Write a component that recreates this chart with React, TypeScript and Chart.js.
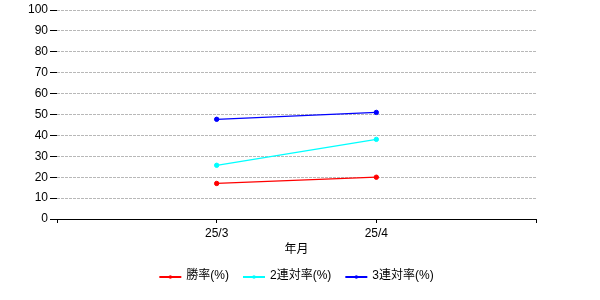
import React, { useEffect, useRef } from 'react';
import { Chart, registerables } from 'chart.js';

Chart.register(...registerables);

// ---- data ----
const categories = ['25/3', '25/4'];
const winRate = [17.0, 20.0];
const top2Rate = [25.7, 38.1];
const top3Rate = [47.7, 51.0];
const seriesNames = ['勝率(%)', '2連対率(%)', '3連対率(%)'];
const seriesColors = ['#ff0000', '#00ffff', '#0000ff'];
const xTitle = '年月';
const yMin = 0;
const yMax = 100;
const yStep = 10;

const FONT = '"Liberation Sans", Arial, "Noto Sans CJK JP", sans-serif';

const legendPlugin = {
  id: 'customLegend',
  afterDraw(chart: any) {
    const ctx = chart.ctx as CanvasRenderingContext2D;
    const { left, right } = chart.chartArea;
    ctx.save();
    ctx.font = `12px ${FONT}`;
    const lineW = 22;
    const gapText = 5;
    const gapItem = 14;
    const widths = seriesNames.map((n) => ctx.measureText(n).width);
    const total =
      widths.reduce((a, w) => a + lineW + gapText + w, 0) + gapItem * (seriesNames.length - 1);
    let x = (left + right) / 2 - total / 2;
    const y = 277;
    seriesNames.forEach((name, i) => {
      const c = seriesColors[i];
      ctx.strokeStyle = c;
      ctx.lineWidth = 2;
      ctx.beginPath();
      ctx.moveTo(x, y);
      ctx.lineTo(x + lineW, y);
      ctx.stroke();
      ctx.fillStyle = c;
      ctx.beginPath();
      ctx.arc(x + lineW / 2, y, 1.8, 0, Math.PI * 2);
      ctx.fill();
      ctx.fillStyle = '#000000';
      ctx.textAlign = 'left';
      ctx.textBaseline = 'middle';
      ctx.fillText(name, x + lineW + gapText, y - 1);
      x += lineW + gapText + widths[i] + gapItem;
    });
    ctx.restore();
  },
};

export default function App() {
  const ref = useRef<HTMLCanvasElement | null>(null);

  useEffect(() => {
    if (!ref.current) return;
    const labels = ['', ...categories, ''];
    const pad = (arr: number[]) => [null, ...arr, null];
    const seriesData = [winRate, top2Rate, top3Rate];
    const chart = new Chart(ref.current, {
      type: 'line',
      data: {
        labels,
        datasets: seriesData.map((d, i) => ({
          label: seriesNames[i],
          data: pad(d),
          borderColor: seriesColors[i],
          backgroundColor: seriesColors[i],
          pointBackgroundColor: seriesColors[i],
          pointBorderColor: seriesColors[i],
          pointRadius: 2.2,
          pointBorderWidth: 1,
          borderWidth: 1.2,
          fill: false,
          tension: 0,
          spanGaps: false,
        })),
      },
      options: {
        responsive: false,
        animation: false,
        layout: { padding: { left: 0, right: 64, top: 10, bottom: 43 } },
        plugins: {
          legend: { display: false },
          tooltip: { enabled: false },
          title: { display: false },
        },
        scales: {
          x: {
            type: 'category',
            offset: false,
            afterFit: (s: any) => {
              s.height = 38;
            },
            grid: {
              display: true,
              drawOnChartArea: false,
              drawTicks: true,
              tickLength: 4,
              tickColor: '#000000',
              tickWidth: 1,
            },
            border: { display: true, color: '#000000', width: 1 },
            ticks: {
              color: '#000000',
              font: { family: FONT, size: 12 },
              padding: 3,
              autoSkip: false,
              maxRotation: 0,
            },
            title: {
              display: true,
              text: xTitle,
              color: '#000000',
              font: { family: FONT, size: 12 },
              padding: { top: 0, bottom: 0 },
            },
          },
          y: {
            min: yMin,
            max: yMax,
            afterFit: (s: any) => {
              s.width = 57;
            },
            grid: {
              color: '#b8b8b8',
              lineWidth: 1,
              drawTicks: true,
              tickLength: 7,
              tickColor: '#000000',
              tickWidth: 1,
              tickBorderDash: [],
            },
            border: { display: false, dash: [3, 1] },
            ticks: {
              stepSize: yStep,
              color: '#000000',
              font: { family: FONT, size: 12 },
              padding: 2,
            },
          },
        },
      },
      plugins: [legendPlugin],
    } as any);
    return () => chart.destroy();
  }, []);

  return (
    <div style={{ position: 'fixed', left: 0, top: 0, width: 600, height: 300, background: '#fff' }}>
      <canvas ref={ref} width={600} height={300} style={{ display: 'block' }} />
    </div>
  );
}
